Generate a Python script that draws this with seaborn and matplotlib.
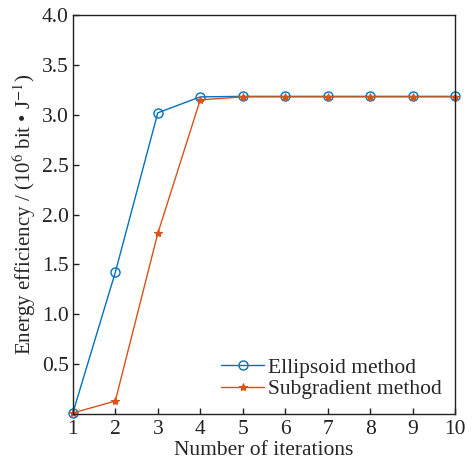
import numpy as np
import matplotlib
matplotlib.use("Agg")
import matplotlib.pyplot as plt
import pandas as pd
import seaborn as sns

# data
iterations = [1, 2, 3, 4, 5, 6, 7, 8, 9, 10]
ellipsoid = [0.01, 1.42, 3.02, 3.18, 3.185, 3.185, 3.185, 3.185, 3.185, 3.185]
subgradient = [0.01, 0.13, 1.81, 3.15, 3.18, 3.18, 3.18, 3.18, 3.18, 3.18]

sns.set_style("white")
plt.rcParams['font.family'] = ['Liberation Serif', 'DejaVu Serif']
plt.rcParams['mathtext.fontset'] = 'stix'

df_e = pd.DataFrame({'iter': iterations, 'ee': ellipsoid})
df_s = pd.DataFrame({'iter': iterations, 'ee': subgradient})

fig = plt.figure(figsize=(4.76, 4.66), dpi=100)
ax = fig.add_axes([0.153, 0.1116, 0.803, 0.856])

sns.lineplot(data=df_e, x='iter', y='ee', ax=ax, color='#0072BD', lw=1,
             marker='o', markersize=6.5, markerfacecolor='none',
             markeredgecolor='#0072BD', markeredgewidth=1,
             label='Ellipsoid method', clip_on=False)
sns.lineplot(data=df_s, x='iter', y='ee', ax=ax, color='#D95319', lw=1,
             marker='*', markersize=6, markeredgecolor='#D95319',
             markeredgewidth=0.8,
             label='Subgradient method', clip_on=False)

ax.set_xlim(1, 10)
ax.set_ylim(0, 4)
ax.set_xticks(range(1, 11))
ax.set_yticks(np.arange(0.5, 4.01, 0.5))
ax.set_yticklabels([f"{v:.1f}" for v in np.arange(0.5, 4.01, 0.5)])
ax.tick_params(direction='in', length=4, width=1, labelsize=15.5,
               bottom=True, left=True, top=False, right=False, colors='#222222')
ax.tick_params(axis='x', pad=4)
ax.tick_params(axis='y', pad=3)
for s in ax.spines.values():
    s.set_color('#222222')
    s.set_linewidth(1)

ax.set_xlabel('Number of iterations', fontsize=15.5, labelpad=2)
ax.set_ylabel(r'Energy efficiency / (10$^{6}$ bit • J$^{-1}$)', fontsize=15, labelpad=3)

ax.legend(loc='lower right', bbox_to_anchor=(1.0, 0.005), frameon=False,
          fontsize=15.5, handlelength=2.0, handletextpad=0.2, labelspacing=0.05,
          borderaxespad=0.2)

fig.savefig('out.png', dpi=100)
